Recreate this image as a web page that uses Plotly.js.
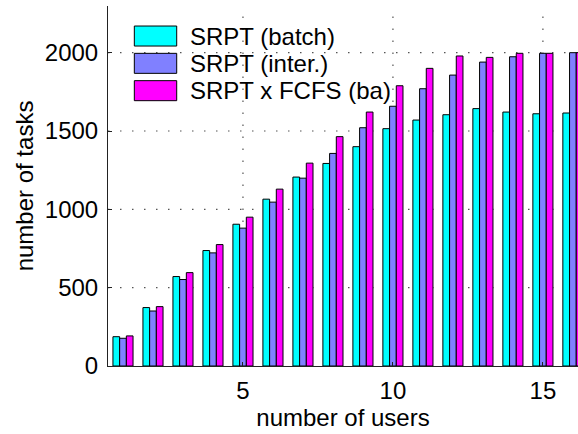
<!DOCTYPE html>
<html>
<head>
<meta charset="utf-8">
<script src="https://cdn.plot.ly/plotly-3.0.1.min.js"></script>
<style>html,body{margin:0;padding:0;background:#fff;}#chart{width:578px;height:434px;}</style>
</head>
<body>
<div id="chart"></div>
<script>
const users = [1,2,3,4,5,6,7,8,9,10,11,12,13,14,15,16];
const srptBatch = [187, 373, 571, 737, 905, 1065, 1206, 1293, 1400, 1515, 1570, 1604, 1643, 1621, 1610, 1615];
const srptInter = [177, 351, 552, 722, 880, 1046, 1199, 1357, 1521, 1658, 1770, 1857, 1940, 1974, 1996, 2000];
const srptFcfs  = [192, 379, 596, 775, 950, 1129, 1295, 1464, 1621, 1789, 1900, 1979, 1970, 1996, 1996, 2000];
const seriesNames = ["SRPT (batch)", "SRPT (inter.)", "SRPT x FCFS (ba)"];
const seriesColors = ["#00ffff", "#8080ff", "#ff00ff"];
const xTicks = [5, 10, 15];
const yTicks = [0, 500, 1000, 1500, 2000];

const FONT = "Liberation Sans, Arial, Helvetica, sans-serif";
const FS = 24;
const seriesValues = [srptBatch, srptInter, srptFcfs];

const traces = seriesValues.map((vals, i) => ({
  type: "bar",
  x: users,
  y: vals,
  name: seriesNames[i],
  marker: {color: seriesColors[i], line: {color: "#000", width: 1}},
  showlegend: false,
  hoverinfo: "skip"
}));

const shapes = [];
const annotations = [];
const gridLine = {color: "#555", width: 1.2, dash: "1.5px,10.5px"};
// dotted grid lines at the tick positions (drawn below the bars)
xTicks.forEach(v => shapes.push({type: "line", xref: "x", yref: "paper", x0: v, x1: v, y0: 0, y1: 1,
  line: gridLine, layer: "below"}));
yTicks.filter(v => v > 0).forEach(v => shapes.push({type: "line", xref: "paper", yref: "y", x0: 0, x1: 1, y0: v, y1: v,
  line: gridLine, layer: "below"}));

// custom legend (large swatches like the original)
const lx0 = 0.056, lx1 = 0.1462, top0 = 0.9444, boxH = 0.0556, rowStep = 0.0759;
seriesNames.forEach((nm, i) => {
  const yt = top0 - i * rowStep;
  shapes.push({type: "rect", xref: "paper", yref: "paper", x0: lx0, x1: lx1, y0: yt - boxH, y1: yt,
    fillcolor: seriesColors[i], line: {color: "#000", width: 1}, layer: "above"});
  annotations.push({xref: "paper", yref: "paper", x: 0.171, y: yt - boxH / 2, xanchor: "left", yanchor: "middle",
    text: nm, showarrow: false, font: {family: FONT, size: FS, color: "#000"}});
});

const layout = {
  width: 578, height: 434, autosize: false,
  margin: {l: 108, r: 0, t: 6, b: 68, pad: 0},
  paper_bgcolor: "#fff", plot_bgcolor: "#fff",
  font: {family: FONT, size: FS, color: "#000"},
  barmode: "group", bargap: 0.33, bargroupgap: 0,
  xaxis: {
    range: [0.5, 16.17], tickvals: xTicks, ticktext: xTicks.map(String),
    ticks: "inside", ticklen: 4, tickcolor: "#222",
    showline: true, linecolor: "#222", linewidth: 1,
    showgrid: false, zeroline: false, ticklabelstandoff: 3,
    title: {text: "number of users", font: {family: FONT, size: FS}, standoff: 2},
    automargin: false
  },
  yaxis: {
    range: [0, 2298], tickvals: yTicks, ticktext: yTicks.map(String),
    ticks: "inside", ticklen: 4, tickcolor: "#222",
    showline: true, linecolor: "#222", linewidth: 1,
    showgrid: false, zeroline: false, ticklabelstandoff: 4,
    title: {text: "number of tasks", font: {family: FONT, size: FS}, standoff: 4},
    automargin: false
  },
  shapes: shapes,
  annotations: annotations
};

Plotly.newPlot("chart", traces, layout, {displayModeBar: false, staticPlot: true});
</script>
</body>
</html>
